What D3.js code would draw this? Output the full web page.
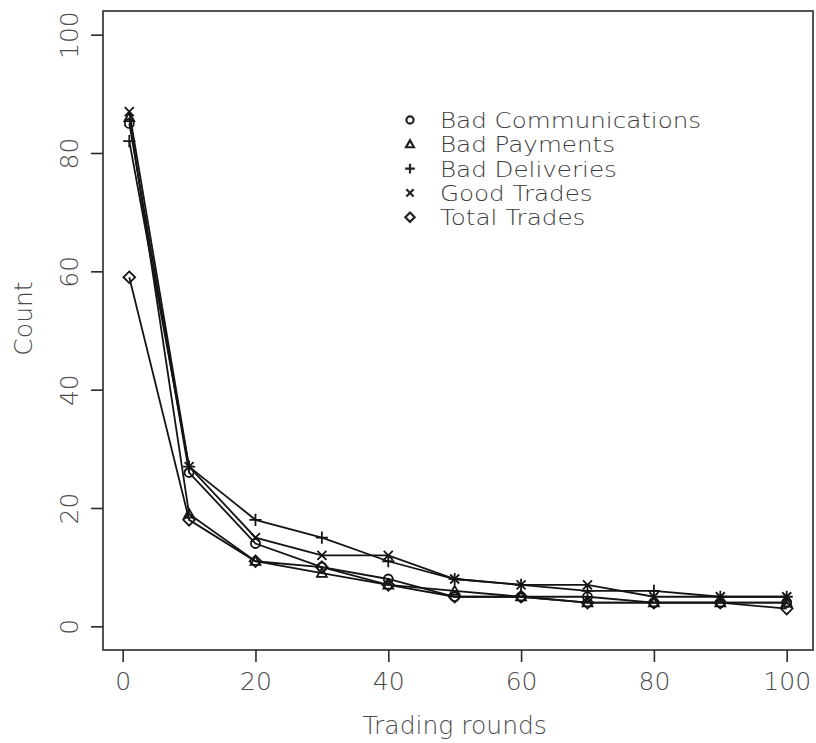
<!DOCTYPE html>
<html>
<head>
<meta charset="utf-8">
<script src="https://cdn.jsdelivr.net/npm/d3@7"></script>
<style>
  html, body { margin: 0; padding: 0; background: #fff; }
  svg { display: block; }
  text { font-family: "DejaVu Sans", "Noto Sans", sans-serif; font-weight: 200; }
</style>
</head>
<body>
<svg id="chart" width="816" height="743"></svg>
<script>
// Trading rounds at which counts were recorded
const rounds = [1, 10, 20, 30, 40, 50, 60, 70, 80, 90, 100];

// Counts per round for each outcome type
const badCommunications = [85, 26, 14, 10, 8, 5, 5, 5, 4, 4, 4];
const badPayments       = [86, 19, 11, 9, 7, 6, 5, 4, 4, 4, 4];
const badDeliveries     = [82, 27, 18, 15, 11, 8, 7, 6, 6, 5, 5];
const goodTrades        = [87, 27, 15, 12, 12, 8, 7, 7, 5, 5, 5];
const totalTrades       = [59, 18, 11, 10, 7, 5, 5, 4, 4, 4, 3];

const seriesNames = ["Bad Communications", "Bad Payments", "Bad Deliveries", "Good Trades", "Total Trades"];
const seriesSymbols = ["circle", "triangle", "plus", "cross", "diamond"];
const seriesValues = [badCommunications, badPayments, badDeliveries, goodTrades, totalTrades];

const xTicks = [0, 20, 40, 60, 80, 100];
const yTicks = [0, 20, 40, 60, 80, 100];

const svg = d3.select("#chart");
const ink = "#141414";
const textInk = "#4a4a4a";

// Plot region padded 4% beyond the data / axis limits
const x = d3.scaleLinear().domain([-2.96, 103.96]).range([103, 813]);
const y = d3.scaleLinear().domain([-4, 104]).range([650, 11]);

// Open marker shapes drawn as outline paths
function markerPath(kind, s) {
  const p = d3.path();
  if (kind === "circle") {
    p.moveTo(s, 0); p.arc(0, 0, s, 0, 2 * Math.PI);
  } else if (kind === "triangle") {
    const h = s * 1.1;
    p.moveTo(0, -h); p.lineTo(h, h * 0.75); p.lineTo(-h, h * 0.75); p.closePath();
  } else if (kind === "plus") {
    const a = s * 1.35;
    p.moveTo(-a, 0); p.lineTo(a, 0); p.moveTo(0, -a); p.lineTo(0, a);
  } else if (kind === "cross") {
    const a = s * 1.0;
    p.moveTo(-a, -a); p.lineTo(a, a); p.moveTo(-a, a); p.lineTo(a, -a);
  } else if (kind === "diamond") {
    const a = s * 1.3;
    p.moveTo(0, -a); p.lineTo(a, 0); p.lineTo(0, a); p.lineTo(-a, 0); p.closePath();
  }
  return p.toString();
}

// Frame
svg.append("rect")
  .attr("x", x.range()[0]).attr("y", y.range()[1])
  .attr("width", x.range()[1] - x.range()[0])
  .attr("height", y.range()[0] - y.range()[1])
  .attr("fill", "none").attr("stroke", "#2a2a2a").attr("stroke-width", 1.6);

// X axis
const xAxis = svg.append("g")
  .attr("transform", `translate(0,${y.range()[0]})`)
  .call(d3.axisBottom(x).tickValues(xTicks).tickSize(12).tickPadding(10).tickFormat(d3.format("d")));
xAxis.select(".domain").remove();
xAxis.selectAll(".tick line").attr("stroke", "#2a2a2a").attr("stroke-width", 1.6);
xAxis.selectAll(".tick text")
  .attr("fill", textInk).attr("font-size", 25).attr("font-family", null);

// Y axis with labels rotated parallel to the axis
const yAxis = svg.append("g")
  .attr("transform", `translate(${x.range()[0]},0)`)
  .call(d3.axisLeft(y).tickValues(yTicks).tickSize(12).tickFormat(d3.format("d")));
yAxis.select(".domain").remove();
yAxis.selectAll(".tick line").attr("stroke", "#2a2a2a").attr("stroke-width", 1.6);
yAxis.selectAll(".tick text")
  .attr("fill", textInk).attr("font-size", 25).attr("font-family", null)
  .attr("x", null).attr("dy", null)
  .attr("text-anchor", "middle")
  .attr("transform", "translate(-25,0) rotate(-90)");

// Axis titles
svg.append("text")
  .attr("x", (x(0) + x(100)) / 2).attr("y", 734)
  .attr("text-anchor", "middle").attr("fill", textInk).attr("font-size", 25)
  .text("Trading rounds");
svg.append("text")
  .attr("transform", `translate(32,${(y(0) + y(100)) / 2 - 12}) rotate(-90)`)
  .attr("text-anchor", "middle").attr("fill", textInk).attr("font-size", 25)
  .text("Count");

// Series lines and markers
const line = d3.line().x((d, i) => x(rounds[i])).y(d => y(d));
seriesValues.forEach((vals, k) => {
  const g = svg.append("g");
  g.append("path").attr("d", line(vals))
    .attr("fill", "none").attr("stroke", ink).attr("stroke-width", 1.8);
  g.selectAll("path.m").data(vals).join("path").attr("class", "m")
    .attr("transform", (d, i) => `translate(${x(rounds[i])},${y(d)})`)
    .attr("d", markerPath(seriesSymbols[k], 4.5))
    .attr("fill", "none").attr("stroke", ink).attr("stroke-width", 1.8);
});

// Legend: compact rows, text stretched horizontally to keep the row width
const legend = svg.append("g").attr("transform", "translate(410,120)");
seriesNames.forEach((name, k) => {
  const row = legend.append("g").attr("transform", `translate(0,${k * 24.3})`);
  row.append("path").attr("d", markerPath(seriesSymbols[k], 3.6))
    .attr("fill", "none").attr("stroke", "#222").attr("stroke-width", 2.2);
  row.append("text")
    .attr("transform", "translate(30,8) scale(1.2,1)")
    .attr("fill", "#3a3a3a").attr("font-size", 20.5)
    .text(name);
});
</script>
</body>
</html>
